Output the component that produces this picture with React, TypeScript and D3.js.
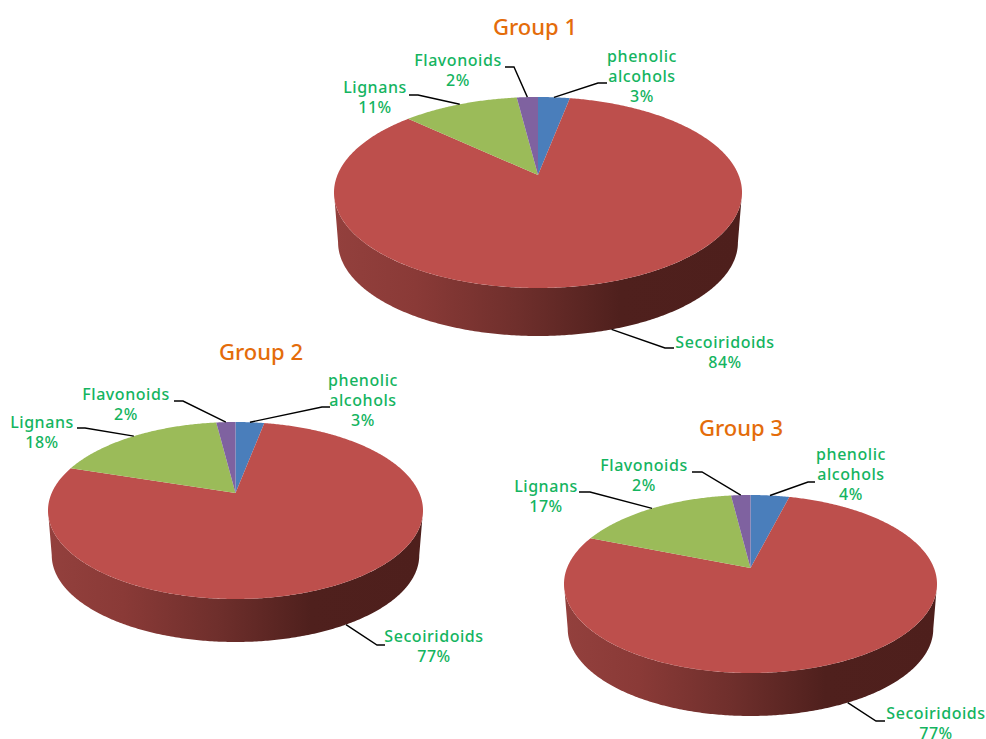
import React from "react";
import * as d3 from "d3";

// Phenolic compound classes, clockwise from twelve o'clock.
const classNames = ["phenolic alcohols", "Secoiridoids", "Lignans", "Flavonoids"];
const classColors = ["#4a7ebb", "#bd4f4c", "#9bbb59", "#7f62a0"];

const group1Values = [3, 84, 11, 2];
const group2Values = [3, 77, 18, 2];
const group3Values = [4, 77, 17, 2];

const groupNames = ["Group 1", "Group 2", "Group 3"];
const groupValues = [group1Values, group2Values, group3Values];

const WIDTH = 986;
const HEIGHT = 739;
const LABEL_FONT = "'Noto Sans', sans-serif";

type Point = [number, number];
interface Layout {
  apexX: number; apexY: number;
  halfWidth: number; topY: number; rimBottomY: number; wallBottomY: number;
  title: Point;
  // per class: text centre, first baseline, elbow of the leader, end of the leader
  labels: { x: number; y: number; elbow: Point; end: Point }[];
}

const layouts: Layout[] = [
  {
    apexX: 538, apexY: 175, halfWidth: 204, topY: 97, rimBottomY: 288, wallBottomY: 336,
    title: [535, 35],
    labels: [
      { x: 642, y: 62, elbow: [598, 83], end: [607, 83] },
      { x: 725, y: 348, elbow: [665, 348], end: [674, 348] },
      { x: 375, y: 93, elbow: [418, 95], end: [409, 95] },
      { x: 458, y: 66, elbow: [514, 67], end: [505, 67] },
    ],
  },
  {
    apexX: 235.5, apexY: 493, halfWidth: 187.5, topY: 422, rimBottomY: 599, wallBottomY: 642,
    title: [261, 360],
    labels: [
      { x: 363, y: 386, elbow: [322, 407], end: [330, 407] },
      { x: 434, y: 642, elbow: [377, 645], end: [385, 645] },
      { x: 42, y: 428, elbow: [85, 428], end: [77, 428] },
      { x: 126, y: 400, elbow: [183, 401], end: [174, 401] },
    ],
  },
  {
    apexX: 750.5, apexY: 568, halfWidth: 186.5, topY: 495, rimBottomY: 673, wallBottomY: 716,
    title: [741, 436],
    labels: [
      { x: 851, y: 460, elbow: [808, 482], end: [815, 482] },
      { x: 936, y: 719, elbow: [876, 721], end: [885, 721] },
      { x: 546, y: 492, elbow: [590, 492], end: [579, 492] },
      { x: 644, y: 471, elbow: [702, 472], end: [692, 472] },
    ],
  },
];

const wallStops: [number, string][] = [
  [0, "#93403d"],
  [0.2, "#8a3a37"],
  [0.45, "#6f2f2c"],
  [0.7, "#4f201d"],
  [1, "#4e1f1c"],
];

// Tilted-disc projection: a unit circle seen in perspective, so the disc centre
// sits above the middle of the drawn ellipse.
function makeProjection(l: Layout) {
  const up = l.apexY - l.topY;
  const down = l.rimBottomY - l.apexY;
  const c = (down - up) / (down + up);
  const a = up * (1 + c);
  const r = l.halfWidth * Math.sqrt(1 - c * c);
  const wallScale = 0.98;
  const drop = down * (1 - wallScale) + (l.wallBottomY - l.rimBottomY);
  const rim = (t: number, k = 1): Point => {
    const u = k * Math.sin(t);
    const v = k * Math.cos(t);
    const w = 1 + c * v;
    return [l.apexX + (r * u) / w, l.apexY - (a * v) / w];
  };
  const base = (t: number): Point => {
    const [x, y] = rim(t);
    return [l.apexX + (x - l.apexX) * wallScale, l.apexY + (y - l.apexY) * wallScale + drop];
  };
  return { rim, base, silhouette: Math.acos(-c) };
}

const pathOf = d3.line<Point>();

function sweep(from: number, to: number, f: (t: number) => Point): Point[] {
  const steps = Math.max(2, Math.ceil(Math.abs(to - from) / 0.01));
  return d3.range(steps + 1).map((i) => f(from + ((to - from) * i) / steps));
}

function PieGroup({ index }: { index: number }) {
  const l = layouts[index];
  const values = groupValues[index];
  const { rim, base, silhouette } = makeProjection(l);
  const arcs = d3.pie<number>().sort(null)(values);
  const wall = [
    ...sweep(silhouette, 2 * Math.PI - silhouette, rim),
    ...sweep(2 * Math.PI - silhouette, silhouette, base),
  ];
  return (
    <g>
      <defs>
        <linearGradient id={`wall-${index}`} gradientUnits="userSpaceOnUse"
          x1={l.apexX - l.halfWidth} x2={l.apexX + l.halfWidth} y1={0} y2={0}>
          {wallStops.map(([o, col]) => <stop key={o} offset={o} stopColor={col} />)}
        </linearGradient>
      </defs>
      <path d={pathOf(wall) + "Z"} fill={`url(#wall-${index})`} />
      {arcs.map((s, i) => (
        <path key={i} fill={classColors[i]}
          d={pathOf([[l.apexX, l.apexY], ...sweep(s.startAngle, s.endAngle, rim)]) + "Z"} />
      ))}
      {arcs.map((s, i) => {
        const mid = (s.startAngle + s.endAngle) / 2;
        const lb = l.labels[i];
        const onFront = Math.cos(mid) < 0;
        return (
          <path key={i} fill="none" stroke="#000" strokeWidth={1.4}
            d={pathOf([onFront ? base(mid) : rim(mid), lb.elbow, lb.end]) ?? ""} />
        );
      })}
      {arcs.map((s, i) => {
        const lb = l.labels[i];
        const lines = [...classNames[i].split(" "), `${values[i]}%`];
        return (
          <text key={i} textAnchor="middle" fontFamily={LABEL_FONT} fontSize={16}
            fontWeight={500} letterSpacing={0.55} fill="#14b45f">
            {lines.map((t, j) => (
              <tspan key={j} x={lb.x} y={lb.y + j * 20}>{t}</tspan>
            ))}
          </text>
        );
      })}
      <text x={l.title[0]} y={l.title[1]} textAnchor="middle" fontFamily={LABEL_FONT}
        fontSize={22} fontWeight={500} fill="#e46c0a">{groupNames[index]}</text>
    </g>
  );
}

export default function App() {
  return (
    <svg width={WIDTH} height={HEIGHT} viewBox={`0 0 ${WIDTH} ${HEIGHT}`}
      style={{ position: "absolute", left: 0, top: 0, background: "#fff" }}>
      {groupNames.map((_, i) => <PieGroup key={i} index={i} />)}
    </svg>
  );
}
